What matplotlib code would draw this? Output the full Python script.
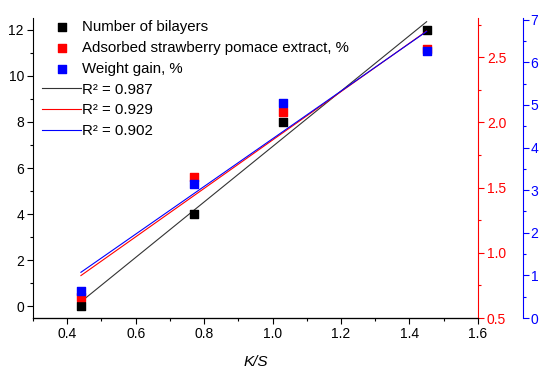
import numpy as np
import matplotlib.pyplot as plt
from matplotlib.ticker import MultipleLocator

plt.rcParams['font.family'] = ['Liberation Sans', 'DejaVu Sans']

ks = [0.44, 0.77, 1.03, 1.45]
bilayers = [0, 4, 8, 12]
adsorbed = [0.663, 1.58, 2.08, 2.56]
weight_gain = [0.64, 3.15, 5.04, 6.26]
r2_labels = ['0.987', '0.929', '0.902']

fig = plt.figure(figsize=(5.5, 3.75), dpi=100)
ax = fig.add_axes([0.06, 0.152, 0.809, 0.8])
ax_r = ax.twinx()
ax_b = ax.twinx()
ax_b.spines['right'].set_position(('axes', 1 + 45 / 445))

for a in (ax, ax_r, ax_b):
    a.spines['top'].set_visible(False)
    a.set_facecolor('none')
ax.spines['right'].set_visible(False)
ax_r.spines['left'].set_visible(False)
ax_b.spines['left'].set_visible(False)

xfit = np.array([ks[0], ks[-1]])

def fit(y):
    p = np.polyfit(ks, y, 1)
    return np.polyval(p, xfit)

h1 = ax.scatter(ks, bilayers, marker='s', s=34, color='black', zorder=5)
l1, = ax.plot(xfit, fit(bilayers), color='#333333', lw=0.8)
h2 = ax_r.scatter(ks, adsorbed, marker='s', s=34, color='red', zorder=5)
l2, = ax_r.plot(xfit, fit(adsorbed), color='red', lw=0.8)
h3 = ax_b.scatter(ks, weight_gain, marker='s', s=34, color='blue', zorder=5)
l3, = ax_b.plot(xfit, fit(weight_gain), color='blue', lw=0.8)

ax.set_xlim(0.3, 1.6)
ax.set_ylim(-0.52, 12.52)
ax_r.set_ylim(0.5, 2.8)
ax_b.set_ylim(0, 7.04)

ax.xaxis.set_major_locator(MultipleLocator(0.2))
ax.xaxis.set_minor_locator(MultipleLocator(0.1))
ax.yaxis.set_major_locator(MultipleLocator(2))
ax.yaxis.set_minor_locator(MultipleLocator(1))
ax_r.yaxis.set_major_locator(MultipleLocator(0.5))
ax_r.yaxis.set_minor_locator(MultipleLocator(0.25))
ax_b.yaxis.set_major_locator(MultipleLocator(1))
ax_b.yaxis.set_minor_locator(MultipleLocator(0.5))
ax.set_xticks([0.4, 0.6, 0.8, 1.0, 1.2, 1.4, 1.6])
ax.set_xticklabels(['0.4', '0.6', '0.8', '1.0', '1.2', '1.4', '1.6'])

for a in (ax, ax_r, ax_b):
    a.tick_params(which='major', direction='out', length=4, width=0.8, labelsize=10, pad=2.5)
    a.tick_params(which='minor', direction='out', length=2.5, width=0.8)

ax_r.spines['right'].set_color('red')
ax_r.tick_params(axis='y', which='both', colors='red')
ax_b.spines['right'].set_color('blue')
ax_b.tick_params(axis='y', which='both', colors='blue', pad=1.5)

ax.set_xlabel('K/S', fontsize=11, style='italic', labelpad=10)

handles = [h1, h2, h3, l1, l2, l3]
labels = ['Number of bilayers', 'Adsorbed strawberry pomace extract, %', 'Weight gain, %'] + \
         ['R\u00b2 = ' + r for r in r2_labels]
ax_b.legend(handles, labels, loc='upper left', bbox_to_anchor=(0.0, 1.024), frameon=False,
            fontsize=10.8, handlelength=2.6, handletextpad=0.1, labelspacing=0.46,
            borderaxespad=0.2, scatterpoints=1)

fig.savefig('out.png', dpi=100)
